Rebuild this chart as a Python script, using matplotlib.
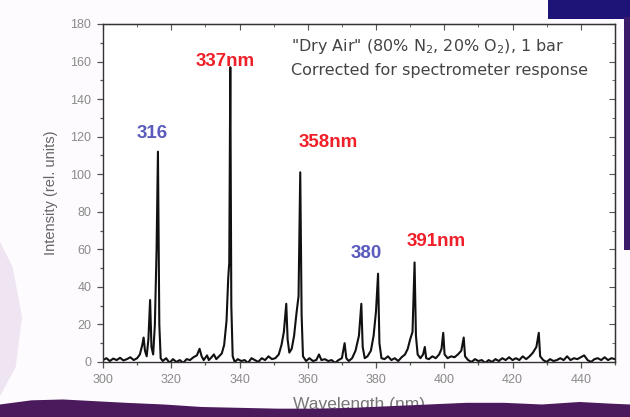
import matplotlib.pyplot as plt
from matplotlib.patches import Polygon, Rectangle

# spectrum (wavelength in nm, intensity in rel. units)
wavelength = [
    300.0, 301.0, 302.0, 303.0, 304.0, 305.0, 306.0, 307.0, 308.0, 309.0,
    310.0, 310.8, 311.5, 311.9, 312.3, 312.8, 313.3, 313.8, 314.2, 314.7,
    315.2, 315.7, 316.1, 316.5, 316.9, 317.5, 318.5, 319.5, 320.5, 321.5,
    322.5, 323.5, 324.5, 325.5, 326.5, 327.5, 328.3, 328.9, 329.5, 330.5,
    331.0, 331.8, 332.5, 333.2, 334.0, 334.8, 335.5, 336.2, 336.7, 337.0,
    337.3, 337.6, 338.0, 338.6, 339.5, 340.5, 341.5, 342.5, 343.5, 344.5,
    345.5, 346.5, 347.5, 348.5, 349.5, 350.5, 351.5, 352.3, 353.0, 353.7,
    354.1, 354.6, 355.3, 356.0, 356.7, 357.3, 357.8, 358.2, 358.6, 359.5,
    360.5, 361.5, 362.5, 363.3, 364.0, 365.0, 366.0, 367.0, 368.0, 369.0,
    370.0, 370.8, 371.3, 372.0, 373.0, 374.0, 375.0, 375.7, 376.1, 376.7,
    377.5, 378.5, 379.3, 380.0, 380.6, 381.0, 381.6, 382.5, 383.5, 384.5,
    385.5, 386.5, 387.5, 388.5, 389.3, 390.0, 390.7, 391.3, 391.7, 392.2,
    393.0, 393.8, 394.3, 394.7, 395.5, 396.5, 397.5, 398.5, 399.2, 399.7,
    400.1, 401.0, 402.0, 403.0, 404.0, 405.0, 405.7, 406.1, 407.0, 408.0,
    409.0, 410.0, 411.0, 412.0, 413.0, 414.0, 415.0, 416.0, 417.0, 418.0,
    419.0, 420.0, 421.0, 422.0, 423.0, 424.0, 425.0, 426.0, 427.0, 427.7,
    428.1, 429.0, 430.0, 431.0, 432.0, 433.0, 434.0, 435.0, 436.0, 437.0,
    438.0, 439.0, 440.0, 441.0, 442.0, 443.0, 444.0, 445.0, 446.0, 447.0,
    448.0, 449.0, 450.0,
]
intensity = [
    1.0, 2.0, 0.5, 1.8, 1.0, 2.2, 0.8, 1.5, 2.5, 1.0,
    2.0, 4.0, 9.0, 13.0, 6.0, 3.0, 12.0, 33.0, 8.0, 4.0,
    20.0, 60.0, 112.0, 20.0, 2.0, 0.5, 2.0, -0.5, 1.5, 0.0,
    1.0, -0.5, 1.5, 1.0, 2.5, 3.5, 7.0, 3.0, 1.0, 3.5,
    1.0, 2.5, 4.0, 1.5, 3.0, 4.5, 9.0, 22.0, 45.0, 53.0,
    157.0, 30.0, 3.0, 0.0, 1.5, 0.5, 1.0, -0.5, 2.0, 1.0,
    0.0, 2.0, 1.0, 3.0, 1.5, 2.0, 4.0, 9.0, 16.0, 31.0,
    12.0, 5.0, 7.0, 14.0, 26.0, 35.0, 101.0, 25.0, 3.0, 0.5,
    2.0, 0.5, 1.0, 4.0, 1.0, 1.5, 0.5, 1.0, -0.5, 1.0,
    2.0, 10.0, 2.0, 0.5, 2.0, 6.0, 14.0, 31.0, 8.0, 2.0,
    3.0, 6.0, 14.0, 27.0, 47.0, 10.0, 2.0, 1.5, 3.0, 1.0,
    2.0, 0.5, 2.5, 4.0, 7.0, 12.0, 16.0, 53.0, 14.0, 4.0,
    2.0, 4.0, 8.0, 2.0, 1.5, 3.0, 2.0, 4.0, 7.0, 15.5,
    4.0, 2.0, 3.0, 2.5, 4.0, 6.0, 13.0, 3.0, 1.0, 0.0,
    1.5, 0.5, 1.0, -0.5, 1.0, 0.0, 1.5, 0.5, 2.0, 1.0,
    2.5, 1.0, 2.0, 1.0, 3.0, 1.5, 3.0, 5.0, 8.0, 15.5,
    3.0, 1.0, 0.0, 1.5, 0.5, 1.0, 2.0, 1.0, 3.0, 1.0,
    2.0, 1.5, 2.5, 3.5, 1.0, 0.0, 1.5, 2.0, 1.0, 2.5,
    1.0, 2.0, 1.5,
]

# peak labels: text, x, y, colour
peak_labels = ["316", "337nm", "358nm", "380", "391nm"]
label_x = [314.3, 335.8, 366.0, 377.0, 397.7]
label_y = [121.5, 160.0, 117.0, 57.5, 64.0]
label_col = ["#5b5bbd", "#f0202a", "#f0202a", "#5b5bbd", "#f0202a"]

plt.rcParams["font.family"] = ["Liberation Sans", "DejaVu Sans"]

fig = plt.figure(figsize=(6.3, 4.17), dpi=100, facecolor="#fdfbfd")
ax = fig.add_axes([0.1635, 0.132, 0.8125, 0.8105])
ax.set_facecolor("white")

ax.plot(wavelength, intensity, color="#111111", lw=1.5)

for txt, x, y, c in zip(peak_labels, label_x, label_y, label_col):
    ax.text(x, y, txt, color=c, fontsize=13.5, fontweight="bold",
            ha="center", va="center")

ax.text(0.368, 0.92, '"Dry Air" (80% N$_2$, 20% O$_2$), 1 bar',
        transform=ax.transAxes, fontsize=11.5, color="#444444",
        family="DejaVu Sans")
ax.text(0.368, 0.85, "Corrected for spectrometer response",
        transform=ax.transAxes, fontsize=11.5, color="#444444",
        family="DejaVu Sans")

ax.set_xlim(300, 450)
ax.set_ylim(0, 180)
ax.set_xticks(range(300, 441, 20))
ax.set_xticks(range(300, 451, 10), minor=True)
ax.set_yticks(range(0, 181, 20))
ax.set_yticks(range(0, 181, 10), minor=True)
ax.tick_params(axis="both", which="both", direction="out", colors="#555555",
               labelcolor="#8a8a8a", labelsize=9, width=0.9, pad=4)
ax.tick_params(which="major", length=4.5)
ax.tick_params(which="minor", length=2.5)

# inward ticks on the top and right sides
top = ax.secondary_xaxis("top")
top.set_xticks(range(300, 441, 20))
top.set_xticks(range(300, 451, 10), minor=True)
top.tick_params(which="both", direction="in", labeltop=False, colors="#555555")
top.tick_params(which="major", length=4.5)
top.tick_params(which="minor", length=2.5)
right = ax.secondary_yaxis("right")
right.set_yticks(range(0, 181, 20))
right.set_yticks(range(0, 181, 10), minor=True)
right.tick_params(which="both", direction="in", labelright=False, colors="#555555")
right.tick_params(which="major", length=4.5)
right.tick_params(which="minor", length=2.5)

for sp in ax.spines.values():
    sp.set_color("#333333")
    sp.set_linewidth(1.0)

ax.set_xlabel("Wavelength (nm)", fontsize=12.5, color="#777777", labelpad=8)
ax.set_ylabel("Intensity (rel. units)", fontsize=10.5, color="#666666",
              labelpad=9)

# torn paper edges of the photo
edge_x = [0.0, 0.05, 0.10, 0.15, 0.20, 0.26, 0.32, 0.38, 0.44, 0.50,
          0.56, 0.62, 0.68, 0.74, 0.80, 0.86, 0.92, 0.97, 1.0]
edge_y = [0.030, 0.040, 0.042, 0.038, 0.034, 0.030, 0.024, 0.022, 0.020,
          0.020, 0.022, 0.026, 0.030, 0.034, 0.034, 0.030, 0.036, 0.032, 0.03]
pts = [(0.0, 0.0)] + list(zip(edge_x, edge_y)) + [(1.0, 0.0)]
fig.patches.append(Polygon(pts, closed=True, transform=fig.transFigure,
                           facecolor="#4a1a5c", edgecolor="none", zorder=5))
fig.patches.append(Rectangle((0.87, 0.955), 0.13, 0.045, transform=fig.transFigure,
                             facecolor="#1e1478", edgecolor="none", zorder=5))
fig.patches.append(Rectangle((0.99, 0.40), 0.01, 0.56, transform=fig.transFigure,
                             facecolor="#3a1a6a", edgecolor="none", zorder=5))
smear = [(0.0, 0.05), (0.0, 0.42), (0.02, 0.36), (0.035, 0.24), (0.025, 0.12)]
fig.patches.append(Polygon(smear, closed=True, transform=fig.transFigure,
                           facecolor="#efe5f2", edgecolor="none", zorder=0))

fig.savefig("out.png", dpi=100, facecolor=fig.get_facecolor())
